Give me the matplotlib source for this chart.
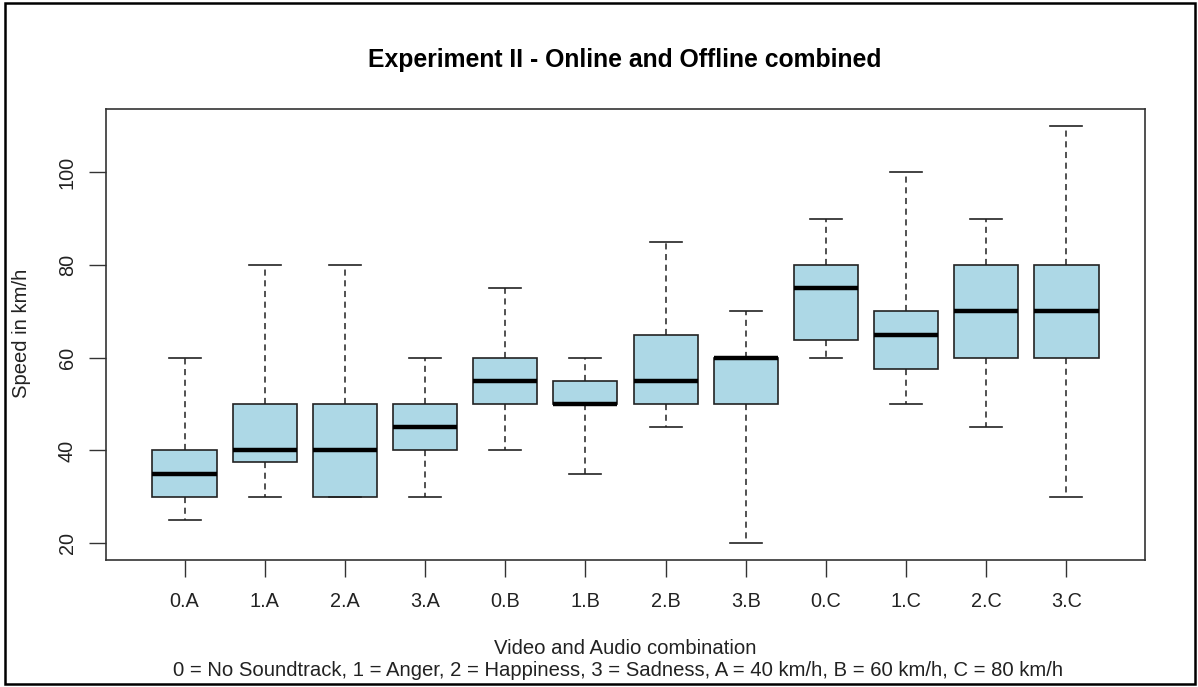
import matplotlib
matplotlib.use("Agg")
import matplotlib.pyplot as plt
from matplotlib.patches import Rectangle

plt.rcParams['font.family'] = ['Liberation Sans', 'DejaVu Sans']

# Gruppen: Video (0-3) x Geschwindigkeit (A-C)
groups = ['0.A', '1.A', '2.A', '3.A', '0.B', '1.B', '2.B', '3.B', '0.C', '1.C', '2.C', '3.C']
whisker_low = [25, 30, 30, 30, 40, 35, 45, 20, 60, 50, 45, 30]
q1 = [30, 37.5, 30, 40, 50, 50, 50, 50, 63.75, 57.5, 60, 60]
medians = [35, 40, 40, 45, 55, 50, 55, 60, 75, 65, 70, 70]
q3 = [40, 50, 50, 50, 60, 55, 65, 60, 80, 70, 80, 80]
whisker_high = [60, 80, 80, 60, 75, 60, 85, 70, 90, 100, 90, 110]

stats = []
for i, name in enumerate(groups):
    stats.append({'label': name, 'whislo': whisker_low[i], 'q1': q1[i],
                  'med': medians[i], 'q3': q3[i], 'whishi': whisker_high[i],
                  'fliers': []})

fig = plt.figure(figsize=(11.98, 6.87), dpi=100)
ax = fig.add_axes([106 / 1198, 1 - 560 / 687, (1145 - 106) / 1198, (560 - 109) / 687])

ax.bxp(stats, positions=range(1, len(groups) + 1), widths=0.8, capwidths=0.4,
       patch_artist=True, showfliers=False,
       boxprops=dict(facecolor='#add8e6', edgecolor='#222222', linewidth=1.2),
       medianprops=dict(color='black', linewidth=3.2, solid_capstyle='butt'),
       whiskerprops=dict(color='#222222', linewidth=1.1, linestyle=(0, (4, 3))),
       capprops=dict(color='#222222', linewidth=1.2))

ax.set_xlim(0.02, 12.98)
ax.set_ylim(16.4, 113.6)
ax.set_yticks([20, 40, 60, 80, 100])
ax.set_yticklabels(['20', '40', '60', '80', '100'], rotation=90, va='center')
ax.tick_params(axis='both', direction='out', length=12, width=1, color='#333333',
               labelsize=14.3, labelcolor='#222222')
ax.tick_params(axis='x', pad=11)
ax.tick_params(axis='y', pad=9)
for s in ax.spines.values():
    s.set_color('#333333')
    s.set_linewidth(1.2)

fig.text(625 / 1198, 1 - 60 / 687, 'Experiment II - Online and Offline combined',
         ha='center', va='center', fontsize=17.8, fontweight='bold')
fig.text(22 / 1198, 1 - 333 / 687, 'Speed in km/h', rotation=90,
         ha='center', va='center', fontsize=14.6, color='#222222')
fig.text(625 / 1198, 1 - 648 / 687, 'Video and Audio combination',
         ha='center', va='center', fontsize=14.6, color='#222222')
fig.text(618 / 1198, 1 - 671 / 687,
         '0 = No Soundtrack, 1 = Anger, 2 = Happiness, 3 = Sadness, A = 40 km/h, B = 60 km/h, C = 80 km/h',
         ha='center', va='center', fontsize=14.6, color='#222222')

# Rahmen um die ganze Grafik
fig.patches.append(Rectangle((5 / 1198, 3 / 687), 1190 / 1198, 681 / 687,
                             transform=fig.transFigure, fill=False,
                             edgecolor='black', linewidth=1.8))

fig.savefig('out.png', dpi=100)
